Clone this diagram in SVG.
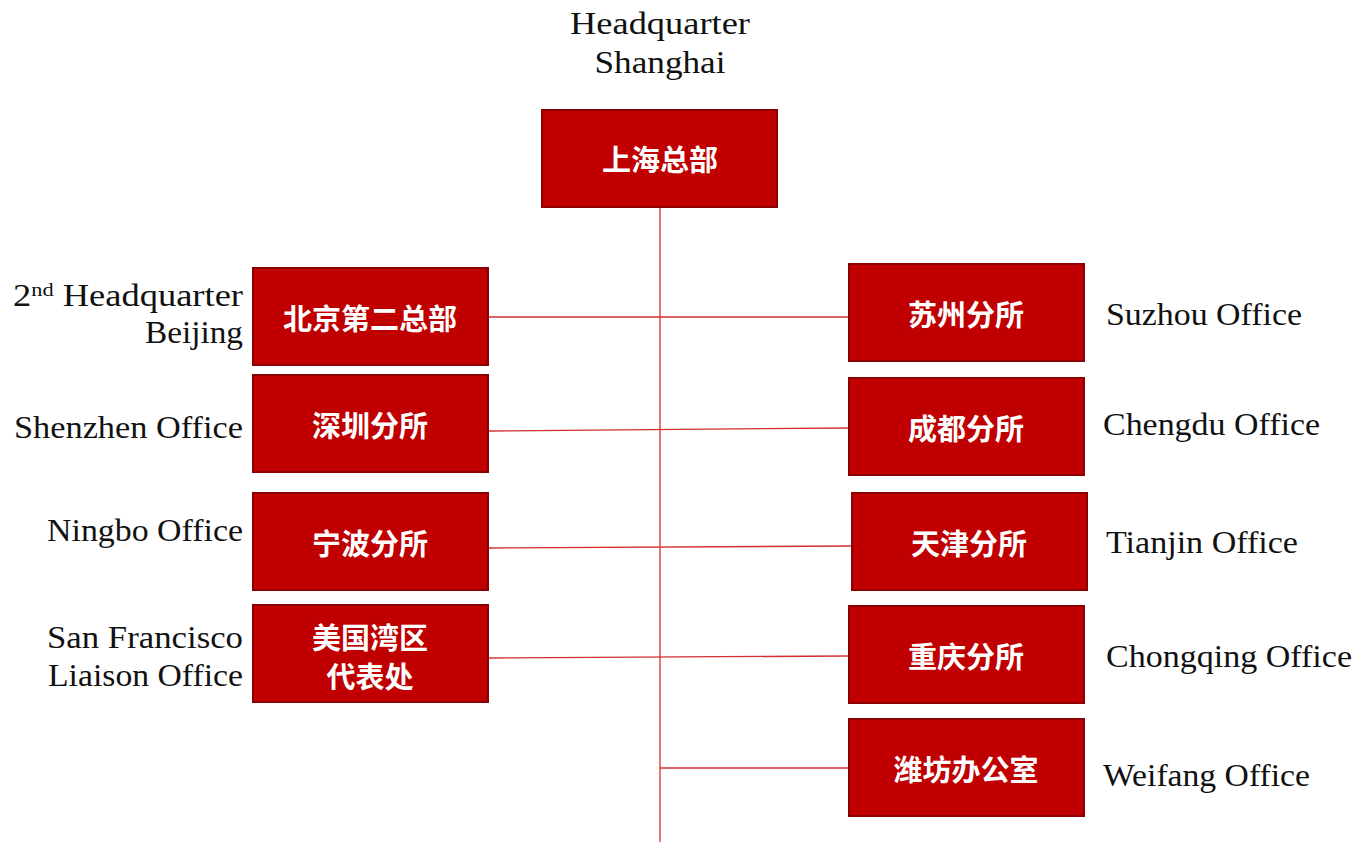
<svg xmlns="http://www.w3.org/2000/svg" width="1359" height="842" viewBox="0 0 1359 842">
<style>
.box{fill:#C00000;stroke:#8B0000;stroke-width:2}
.cn{fill:#fff;font-family:"Noto Sans CJK SC",sans-serif;font-weight:bold;font-size:29px;text-anchor:middle}
.en{fill:#111;font-family:"Liberation Serif",serif;font-size:31px}
.l{text-anchor:end}
.c{text-anchor:middle}
.ln{stroke:#D32F2F;stroke-width:1.3;fill:none}
</style>
<rect width="1359" height="842" fill="#fff"/>
<g id="connectors">
<line class="ln" x1="660" y1="207" x2="660" y2="842"/>
<line class="ln" x1="488" y1="317" x2="849" y2="317"/>
<line class="ln" x1="488" y1="431" x2="849" y2="428"/>
<line class="ln" x1="488" y1="548" x2="852" y2="546"/>
<line class="ln" x1="488" y1="658" x2="849" y2="656"/>
<line class="ln" x1="660" y1="768" x2="849" y2="768"/>
</g>
<g id="hq">
<text class="en c" x="660" y="34" textLength="180" lengthAdjust="spacingAndGlyphs">Headquarter</text>
<text class="en c" x="660" y="73" textLength="131" lengthAdjust="spacingAndGlyphs">Shanghai</text>
<rect class="box" x="542" y="110" width="235" height="97"/>
<text class="cn" x="660" y="171">上海总部</text>
</g>
<g id="beijing">
<text class="en l" x="243" y="306" textLength="230" lengthAdjust="spacingAndGlyphs">2<tspan dy="-10" font-size="19">nd</tspan><tspan dy="10"> Headquarter</tspan></text>
<text class="en l" x="243" y="343" textLength="98" lengthAdjust="spacingAndGlyphs">Beijing</text>
<rect class="box" x="253" y="268" width="235" height="97"/>
<text class="cn" x="370" y="330">北京第二总部</text>
</g>
<g id="shenzhen">
<text class="en l" x="243" y="438" textLength="229" lengthAdjust="spacingAndGlyphs">Shenzhen Office</text>
<rect class="box" x="253" y="375" width="235" height="97"/>
<text class="cn" x="370" y="437">深圳分所</text>
</g>
<g id="ningbo">
<text class="en l" x="243" y="541" textLength="196" lengthAdjust="spacingAndGlyphs">Ningbo Office</text>
<rect class="box" x="253" y="493" width="235" height="97"/>
<text class="cn" x="370" y="555">宁波分所</text>
</g>
<g id="sf">
<text class="en l" x="243" y="648" textLength="196" lengthAdjust="spacingAndGlyphs">San Francisco</text>
<text class="en l" x="243" y="686" textLength="195" lengthAdjust="spacingAndGlyphs">Liaison Office</text>
<rect class="box" x="253" y="605" width="235" height="97"/>
<text class="cn" x="370" y="649" font-size="27">美国湾区</text>
<text class="cn" x="370" y="688" font-size="27">代表处</text>
</g>
<g id="suzhou">
<rect class="box" x="849" y="264" width="235" height="97"/>
<text class="cn" x="966" y="326">苏州分所</text>
<text class="en" x="1106" y="325" textLength="196" lengthAdjust="spacingAndGlyphs">Suzhou Office</text>
</g>
<g id="chengdu">
<rect class="box" x="849" y="378" width="235" height="97"/>
<text class="cn" x="966" y="440">成都分所</text>
<text class="en" x="1103" y="435" textLength="217" lengthAdjust="spacingAndGlyphs">Chengdu Office</text>
</g>
<g id="tianjin">
<rect class="box" x="852" y="493" width="235" height="97"/>
<text class="cn" x="969" y="555">天津分所</text>
<text class="en" x="1106" y="553" textLength="192" lengthAdjust="spacingAndGlyphs">Tianjin Office</text>
</g>
<g id="chongqing">
<rect class="box" x="849" y="606" width="235" height="97"/>
<text class="cn" x="966" y="668">重庆分所</text>
<text class="en" x="1106" y="667" textLength="246" lengthAdjust="spacingAndGlyphs">Chongqing Office</text>
</g>
<g id="weifang">
<rect class="box" x="849" y="719" width="235" height="97"/>
<text class="cn" x="966" y="781">潍坊办公室</text>
<text class="en" x="1103" y="786" textLength="207" lengthAdjust="spacingAndGlyphs">Weifang Office</text>
</g>
</svg>
